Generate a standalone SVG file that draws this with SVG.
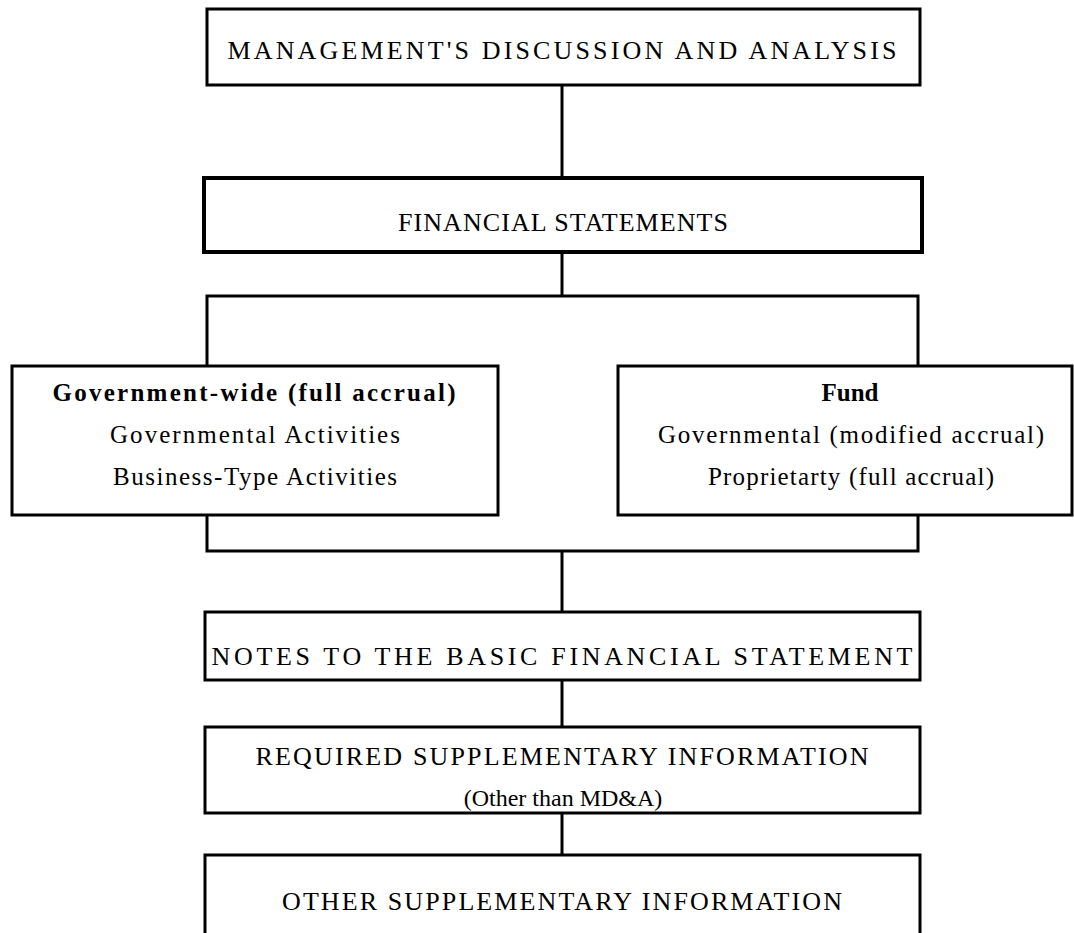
<svg xmlns="http://www.w3.org/2000/svg" width="1074" height="933" viewBox="0 0 1074 933">
<style>
.box{fill:#fff;stroke:#000;stroke-width:3}
.thick{stroke-width:4}
.ln{fill:none;stroke:#000;stroke-width:3}
text{font-family:"Liberation Serif","Times New Roman",serif;font-size:26px;fill:#000;text-anchor:middle}
.s{font-size:25px}
.b{font-weight:bold}
</style>
<rect width="1074" height="933" fill="#fff"/>
<g id="connectors">
<line class="ln" x1="562" y1="85" x2="562" y2="178"/>
<line class="ln" x1="562" y1="252" x2="562" y2="296"/>
<polyline class="ln" points="207,366 207,296 918,296 918,366"/>
<polyline class="ln" points="207,515 207,551 918,551 918,515"/>
<line class="ln" x1="562" y1="551" x2="562" y2="612"/>
<line class="ln" x1="562" y1="680" x2="562" y2="727"/>
<line class="ln" x1="562" y1="813" x2="562" y2="855"/>
</g>
<g id="mda">
<rect class="box" x="207" y="9" width="713" height="76"/>
<text x="562" y="59" textLength="669" lengthAdjust="spacing">MANAGEMENT'S DISCUSSION AND ANALYSIS</text>
</g>
<g id="fs">
<rect class="box thick" x="204" y="178" width="718" height="74"/>
<text x="563" y="231" textLength="330" lengthAdjust="spacing">FINANCIAL STATEMENTS</text>
</g>
<g id="govwide">
<rect class="box" x="12" y="366" width="486" height="149"/>
<text class="s b" x="254" y="401" textLength="403" lengthAdjust="spacing">Government-wide (full accrual)</text>
<text class="s" x="255" y="443" textLength="290" lengthAdjust="spacing">Governmental Activities</text>
<text class="s" x="255" y="485" textLength="284" lengthAdjust="spacing">Business-Type Activities</text>
</g>
<g id="fund">
<rect class="box" x="618" y="366" width="454" height="149"/>
<text class="s b" x="850" y="401">Fund</text>
<text class="s" x="851" y="443" textLength="386" lengthAdjust="spacing">Governmental (modified accrual)</text>
<text class="s" x="851" y="485" textLength="286" lengthAdjust="spacing">Proprietarty (full accrual)</text>
</g>
<g id="notes">
<rect class="box" x="205" y="612" width="715" height="68"/>
<text x="562" y="665" textLength="701" lengthAdjust="spacing">NOTES TO THE BASIC FINANCIAL STATEMENT</text>
</g>
<g id="rsi">
<rect class="box" x="205" y="727" width="715" height="86"/>
<text x="562" y="765" textLength="613" lengthAdjust="spacing">REQUIRED SUPPLEMENTARY INFORMATION</text>
<text x="563" y="806" style="font-size:24px">(Other than MD&amp;A)</text>
</g>
<g id="osi">
<rect class="box" x="205" y="855" width="715" height="90"/>
<text x="562" y="910" textLength="560" lengthAdjust="spacing">OTHER SUPPLEMENTARY INFORMATION</text>
</g>
</svg>
